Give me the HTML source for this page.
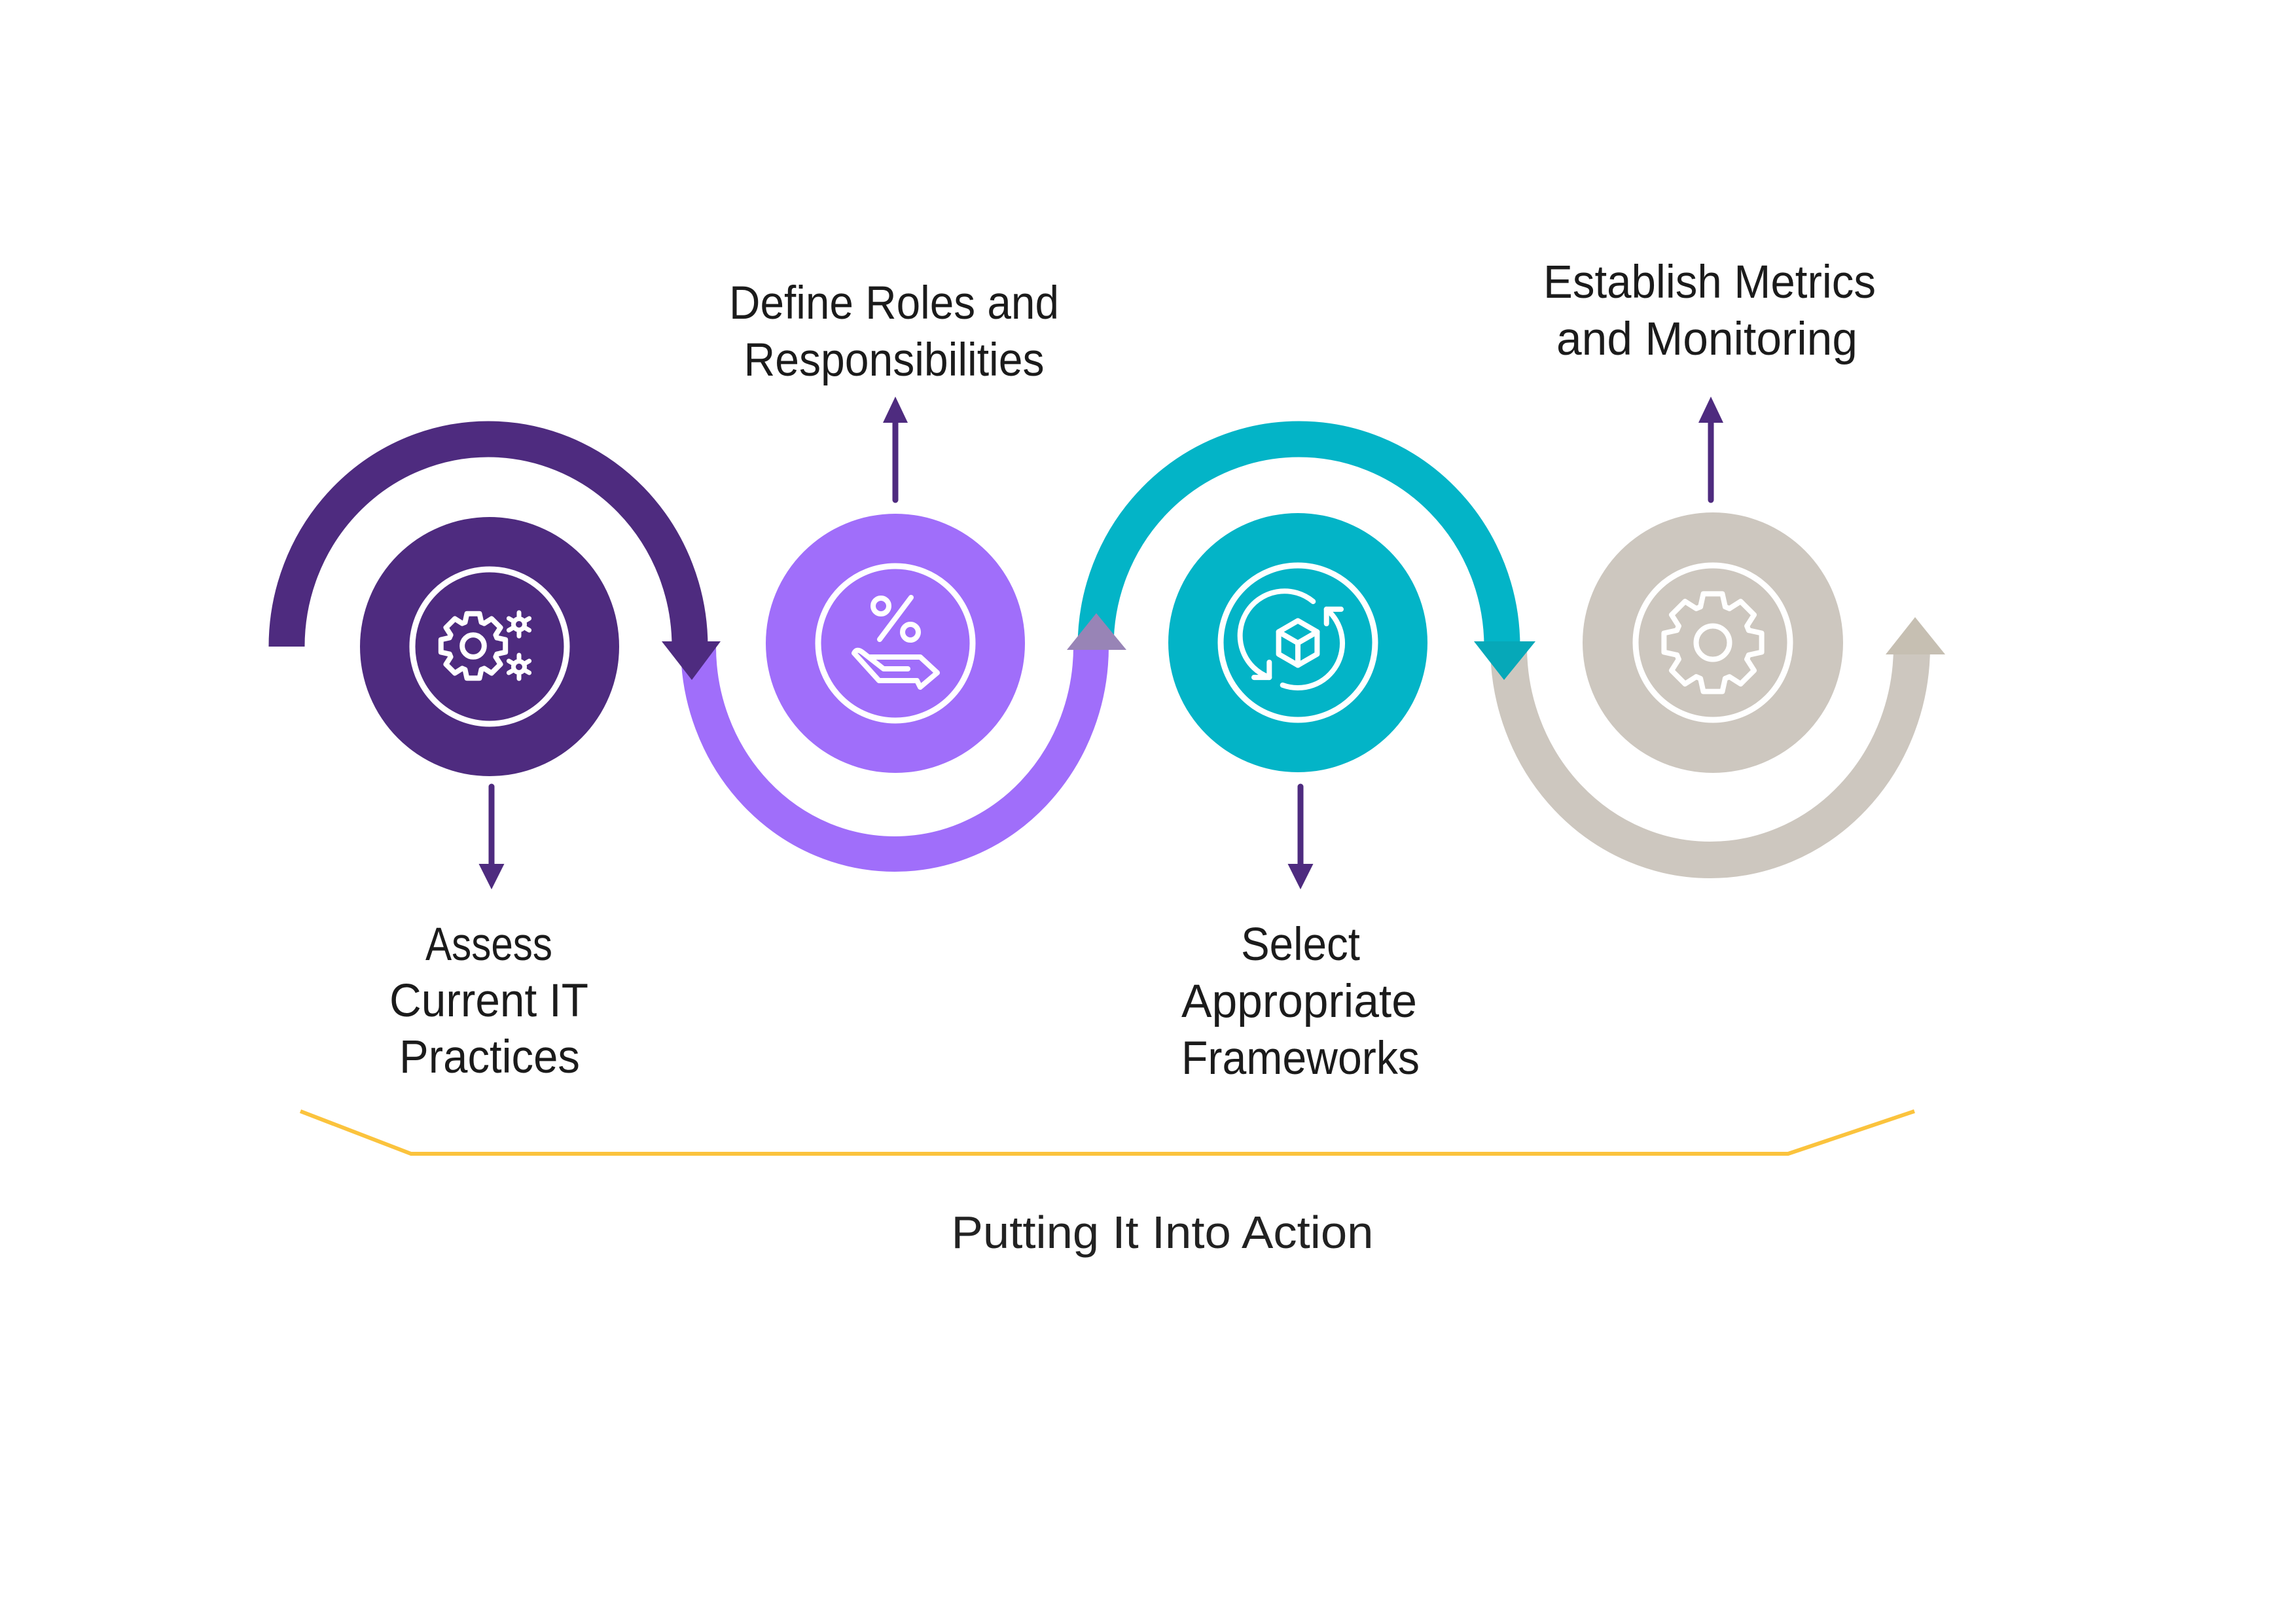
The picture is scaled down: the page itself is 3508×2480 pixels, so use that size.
<!DOCTYPE html>
<html>
<head>
<meta charset="utf-8">
<style>
  html,body{margin:0;padding:0;background:#ffffff;}
  body{width:3508px;height:2480px;overflow:hidden;}
  svg{display:block;}
  text{font-family:"Liberation Sans", Arial, sans-serif;fill:#1b1b1b;}
</style>
</head>
<body>
<svg width="3508" height="2480" viewBox="0 0 3508 2480" xmlns="http://www.w3.org/2000/svg">
  <rect x="0" y="0" width="3508" height="2480" fill="#ffffff"/>

  <!-- connecting arcs -->
  <path d="M438 988 A308 317 0 0 1 1054 988" stroke="#4e2b7f" stroke-width="55" fill="none"/>
  <path d="M1067 988 A300 317 0 0 0 1667 988" stroke="#a06efa" stroke-width="54" fill="none"/>
  <path d="M1674 988 A310.5 317 0 0 1 2295 988" stroke="#03b4c7" stroke-width="55" fill="none"/>
  <path d="M2305 988 A308 326 0 0 0 2921 988" stroke="#cdc7bf" stroke-width="56" fill="none"/>

  <!-- arc arrowheads -->
  <polygon points="1011,980 1101,980 1057,1039" fill="#4e2b7f"/>
  <polygon points="1630,993 1721,993 1675,937" fill="#9884b6"/>
  <polygon points="2252,980 2346,980 2298,1039" fill="#06a8b8"/>
  <polygon points="2881,1000 2972,1000 2926,943" fill="#c6bfb2"/>

  <!-- circles -->
  <circle cx="748" cy="988" r="198" fill="#4e2b7f"/>
  <circle cx="748" cy="988" r="118" fill="none" stroke="#ffffff" stroke-width="9"/>

  <circle cx="1368" cy="983" r="198" fill="#a06efa"/>
  <circle cx="1368" cy="983" r="118" fill="none" stroke="#ffffff" stroke-width="9"/>

  <circle cx="1983" cy="982" r="198" fill="#03b4c7"/>
  <circle cx="1983" cy="982" r="118" fill="none" stroke="#ffffff" stroke-width="9"/>

  <circle cx="2617" cy="982" r="199" fill="#cdc7bf"/>
  <circle cx="2617" cy="982" r="118" fill="none" stroke="#ffffff" stroke-width="9"/>

  <!-- icon 1: gears -->
  <g transform="translate(723 987) scale(0.66)" stroke="#ffffff" stroke-width="12" fill="none" stroke-linejoin="round" stroke-linecap="round">
    <path d="M-18.9,-54.8 L-14.5,-74.6 L14.5,-74.6 L18.9,-54.8 L25.4,-52.1"/>
    <path transform="rotate(45)" d="M-18.9,-54.8 L-14.5,-74.6 L14.5,-74.6 L18.9,-54.8 L25.4,-52.1"/>
    <path transform="rotate(90)" d="M-18.9,-54.8 L-14.5,-74.6 L14.5,-74.6 L18.9,-54.8 L25.4,-52.1"/>
    <path transform="rotate(135)" d="M-18.9,-54.8 L-14.5,-74.6 L14.5,-74.6 L18.9,-54.8 L25.4,-52.1"/>
    <path transform="rotate(180)" d="M-18.9,-54.8 L-14.5,-74.6 L14.5,-74.6 L18.9,-54.8 L25.4,-52.1"/>
    <path transform="rotate(225)" d="M-18.9,-54.8 L-14.5,-74.6 L14.5,-74.6 L18.9,-54.8 L25.4,-52.1"/>
    <path transform="rotate(270)" d="M-18.9,-54.8 L-14.5,-74.6 L14.5,-74.6 L18.9,-54.8 L25.4,-52.1"/>
    <path transform="rotate(315)" d="M-18.9,-54.8 L-14.5,-74.6 L14.5,-74.6 L18.9,-54.8 L25.4,-52.1"/>
    <circle cx="0" cy="0" r="25.5"/>
  </g>
  <g stroke="#ffffff" stroke-width="7" fill="none" stroke-linecap="round">
    <g transform="translate(793 954)">
      <circle r="8.5"/>
      <line x1="0" y1="-11" x2="0" y2="-18"/>
      <line x1="0" y1="11" x2="0" y2="18"/>
      <line x1="9.5" y1="-5.5" x2="15.6" y2="-9"/>
      <line x1="-9.5" y1="-5.5" x2="-15.6" y2="-9"/>
      <line x1="9.5" y1="5.5" x2="15.6" y2="9"/>
      <line x1="-9.5" y1="5.5" x2="-15.6" y2="9"/>
    </g>
    <g transform="translate(793 1019)">
      <circle r="8.5"/>
      <line x1="0" y1="-11" x2="0" y2="-18"/>
      <line x1="0" y1="11" x2="0" y2="18"/>
      <line x1="9.5" y1="-5.5" x2="15.6" y2="-9"/>
      <line x1="-9.5" y1="-5.5" x2="-15.6" y2="-9"/>
      <line x1="9.5" y1="5.5" x2="15.6" y2="9"/>
      <line x1="-9.5" y1="5.5" x2="-15.6" y2="9"/>
    </g>
  </g>

  <!-- icon 2: percent + hand -->
  <g stroke="#ffffff" stroke-width="8" fill="none" stroke-linecap="round" stroke-linejoin="round">
    <circle cx="1346" cy="926" r="12"/>
    <circle cx="1391" cy="966" r="12"/>
    <line x1="1392" y1="913" x2="1344" y2="977"/>
    <path d="M1387 1022 L1350 1022 L1318 997 Q1309 990 1305 998 L1343 1040 L1401 1040 L1406 1050 L1432 1028 L1406 1004 L1328 1004"/>
  </g>

  <!-- icon 3: cube with rotating arrows -->
  <g stroke="#ffffff" stroke-width="8" fill="none" stroke-linecap="round" stroke-linejoin="round">
    <path d="M2006.3 919.1 A68 68 0 1 0 1939.3 1035.1"/>
    <path d="M1939.3 1012 L1939.3 1035.1 L1916 1035.1"/>
    <path d="M1959.7 1046.9 A68 68 0 0 0 2026.7 930.9"/>
    <path d="M2026.7 953 L2026.7 930.9 L2049 930.9"/>
    <polygon points="1983,948.5 2012.4,965.5 2012.4,999.5 1983,1016.5 1953.6,999.5 1953.6,965.5"/>
    <path d="M1953.6 965.5 L1983 982.5 L2012.4 965.5 M1983 982.5 L1983 1016.5"/>
  </g>

  <!-- icon 4: gear -->
  <g transform="translate(2617 982)" stroke="#ffffff" stroke-width="8" fill="none" stroke-linejoin="round" stroke-linecap="round">
    <path d="M-18.9,-54.8 L-14.5,-74.6 L14.5,-74.6 L18.9,-54.8 L25.4,-52.1"/>
    <path transform="rotate(45)" d="M-18.9,-54.8 L-14.5,-74.6 L14.5,-74.6 L18.9,-54.8 L25.4,-52.1"/>
    <path transform="rotate(90)" d="M-18.9,-54.8 L-14.5,-74.6 L14.5,-74.6 L18.9,-54.8 L25.4,-52.1"/>
    <path transform="rotate(135)" d="M-18.9,-54.8 L-14.5,-74.6 L14.5,-74.6 L18.9,-54.8 L25.4,-52.1"/>
    <path transform="rotate(180)" d="M-18.9,-54.8 L-14.5,-74.6 L14.5,-74.6 L18.9,-54.8 L25.4,-52.1"/>
    <path transform="rotate(225)" d="M-18.9,-54.8 L-14.5,-74.6 L14.5,-74.6 L18.9,-54.8 L25.4,-52.1"/>
    <path transform="rotate(270)" d="M-18.9,-54.8 L-14.5,-74.6 L14.5,-74.6 L18.9,-54.8 L25.4,-52.1"/>
    <path transform="rotate(315)" d="M-18.9,-54.8 L-14.5,-74.6 L14.5,-74.6 L18.9,-54.8 L25.4,-52.1"/>
    <circle cx="0" cy="0" r="25.5"/>
  </g>

  <!-- label arrows -->
  <g stroke="#4e2b7f" stroke-width="9" stroke-linecap="round">
    <line x1="751" y1="1202" x2="751" y2="1325"/>
    <line x1="1987" y1="1202" x2="1987" y2="1325"/>
    <line x1="1368" y1="764" x2="1368" y2="642"/>
    <line x1="2614" y1="764" x2="2614" y2="642"/>
  </g>
  <g fill="#4e2b7f">
    <polygon points="731.5,1320 770.5,1320 751,1359"/>
    <polygon points="1967.5,1320 2006.5,1320 1987,1359"/>
    <polygon points="1349,646 1387,646 1368,606"/>
    <polygon points="2595,646 2633,646 2614,606"/>
  </g>

  <!-- labels -->
  <g font-size="71" text-anchor="middle">
    <text x="1366" y="487" textLength="504" lengthAdjust="spacingAndGlyphs">Define Roles and</text>
    <text x="1366" y="574" textLength="459" lengthAdjust="spacingAndGlyphs">Responsibilities</text>

    <text x="2612" y="455" textLength="508" lengthAdjust="spacingAndGlyphs">Establish Metrics</text>
    <text x="2608" y="542" textLength="460" lengthAdjust="spacingAndGlyphs">and Monitoring</text>

    <text x="747" y="1467" textLength="194" lengthAdjust="spacingAndGlyphs">Assess</text>
    <text x="747" y="1553" textLength="304" lengthAdjust="spacingAndGlyphs">Current IT</text>
    <text x="748" y="1639" textLength="276" lengthAdjust="spacingAndGlyphs">Practices</text>

    <text x="1987" y="1467" textLength="182" lengthAdjust="spacingAndGlyphs">Select</text>
    <text x="1985" y="1554" textLength="360" lengthAdjust="spacingAndGlyphs">Appropriate</text>
    <text x="1987" y="1641" textLength="364" lengthAdjust="spacingAndGlyphs">Frameworks</text>
  </g>

  <!-- bracket -->
  <polyline points="459,1698 628,1763 2732,1763 2925,1698" fill="none" stroke="#fbc33d" stroke-width="6" stroke-linejoin="miter"/>

  <text x="1776" y="1907" font-size="70" text-anchor="middle" textLength="645" lengthAdjust="spacingAndGlyphs" style="fill:#222222">Putting It Into Action</text>
</svg>
</body>
</html>
